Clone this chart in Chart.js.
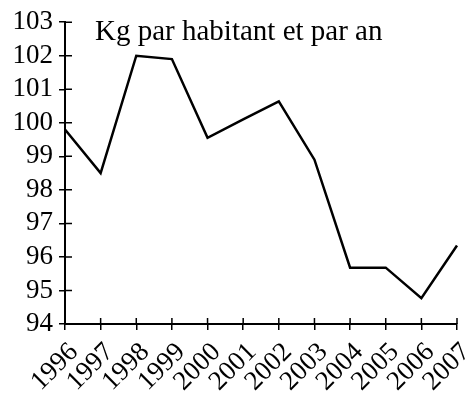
<!DOCTYPE html>
<html>
<head>
<meta charset="utf-8">
<script src="https://cdn.jsdelivr.net/npm/chart.js@4"></script>
<style>
	html, body { margin: 0; padding: 0; background: #fff; }
	#wrap { width: 475px; height: 402px; }
</style>
</head>
<body>
<div id="wrap"><canvas id="courbe"></canvas></div>
<script>
// Données
const annees = ['1996', '1997', '1998', '1999', '2000', '2001', '2002', '2003', '2004', '2005', '2006', '2007'];
const kgParHabitant = [99.8, 98.5, 102.0, 101.9, 99.55, 100.1, 100.64, 98.9, 95.68, 95.68, 94.77, 96.34];
const titre = 'Kg par habitant et par an';
const yMin = 94;
const yMax = 103;

const police = "'Liberation Serif', 'DejaVu Serif', serif";

// Traits de graduation côté intérieur, étiquettes des années inclinées et titre
const decor = {
	id: 'decor',
	afterDraw(chart) {
		const { ctx, chartArea, scales } = chart;
		ctx.save();
		ctx.strokeStyle = '#000';
		ctx.lineWidth = 1.5;
		ctx.beginPath();
		scales.y.ticks.forEach((t) => {
			const py = scales.y.getPixelForValue(t.value);
			ctx.moveTo(chartArea.left, py);
			ctx.lineTo(chartArea.left + 7, py);
		});
		annees.forEach((a, i) => {
			const px = scales.x.getPixelForValue(i);
			ctx.moveTo(px, chartArea.bottom);
			ctx.lineTo(px, chartArea.bottom - 6);
		});
		ctx.stroke();

		ctx.fillStyle = '#000';

		// années inclinées à 45°
		ctx.font = '27px ' + police;
		ctx.textAlign = 'right';
		ctx.textBaseline = 'middle';
		annees.forEach((a, i) => {
			const px = scales.x.getPixelForValue(i);
			ctx.save();
			ctx.translate(px + 9, chartArea.bottom + 24);
			ctx.rotate(-Math.PI / 4);
			ctx.fillText(a, 0, 0);
			ctx.restore();
		});

		// Titre dans la zone du graphique
		ctx.font = '29px ' + police;
		ctx.textAlign = 'left';
		ctx.textBaseline = 'alphabetic';
		ctx.fillText(titre, 95, 40);
		ctx.restore();
	}
};

new Chart(document.getElementById('courbe'), {
	type: 'line',
	data: {
		labels: annees,
		datasets: [{
			data: kgParHabitant,
			borderColor: '#000',
			borderWidth: 2.5,
			pointRadius: 0,
			tension: 0,
			fill: false
		}]
	},
	options: {
		responsive: true,
		maintainAspectRatio: false,
		animation: false,
		layout: { padding: { top: 19, right: 18, left: 0, bottom: 0 } },
		plugins: {
			legend: { display: false },
			tooltip: { enabled: false }
		},
		scales: {
			x: {
				offset: false,
				afterFit: (s) => { s.height = 78; },
				border: { color: '#000', width: 2 },
				grid: { drawOnChartArea: false, color: '#000', tickLength: 6, lineWidth: 1.5 },
				ticks: { display: false, autoSkip: false }
			},
			y: {
				min: yMin,
				max: yMax,
				afterFit: (s) => { s.width = 65; },
				border: { color: '#000', width: 2 },
				grid: { drawOnChartArea: false, color: '#000', tickLength: 6, lineWidth: 1.5 },
				ticks: {
					stepSize: 1,
					autoSkip: false,
					color: '#000',
					font: { family: police, size: 27 },
					padding: 6
				}
			}
		}
	},
	plugins: [decor]
});
</script>
</body>
</html>
